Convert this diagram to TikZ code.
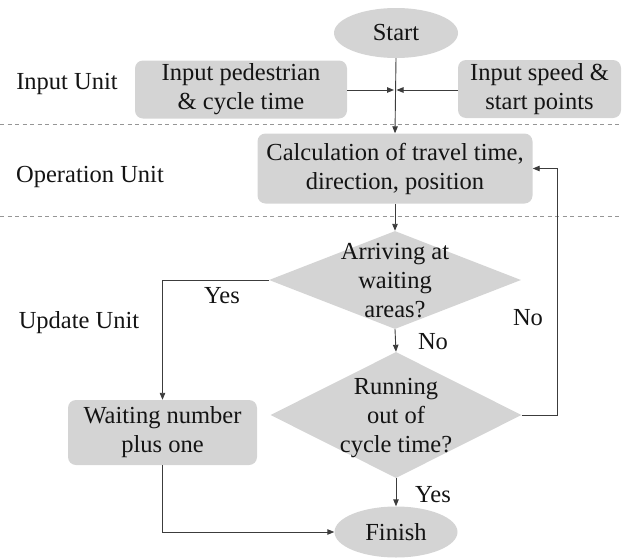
\documentclass[tikz,border=0pt]{standalone}
\usepackage{fontspec}
\setmainfont{Liberation Serif}
\newfontfamily\tnrfont{Liberation Serif}
\usetikzlibrary{shapes.geometric,arrows.meta}
\definecolor{boxgray}{RGB}{212,212,212}
\definecolor{linegray}{RGB}{60,60,60}
\definecolor{dashgray}{RGB}{150,150,150}
\definecolor{txtcol}{RGB}{20,20,20}
\tikzset{
  txt/.style={font=\tnrfont\fontsize{24.5}{29}\selectfont, text=txtcol, align=center, inner sep=0pt},
  rbox/.style={txt, rectangle, rounded corners=8pt, fill=boxgray},
  oval/.style={txt, ellipse, fill=boxgray},
  dec/.style={diamond, fill=boxgray, inner sep=0pt},
  arr/.style={draw=linegray, line width=0.9pt, -{Triangle[length=7pt,width=5.5pt]}},
  sep/.style={draw=dashgray, line width=0.8pt, dash pattern=on 4pt off 3.5pt},
}
\begin{document}
\begin{tikzpicture}[x=1pt,y=-1pt]
\useasboundingbox (0,0) rectangle (622,560);
% separators
\coordinate (s1l) at (0,124.5);
\coordinate (s1r) at (622,124.5);
\coordinate (s2l) at (0,216.5);
\coordinate (s2r) at (622,216.5);
\draw[sep] (s1l) -- (s1r);
\draw[sep] (s2l) -- (s2r);
% unit labels
\node[txt] (lin) at (67,84) {Input Unit};
\node[txt] (lop) at (90,177) {Operation Unit};
\node[txt] (lup) at (79,323) {Update Unit};
% nodes
\node[oval, minimum width=124pt, minimum height=50pt] (start) at (396,33) {Start};
\node[rbox, minimum width=212pt, minimum height=58pt] (inped) at (241,89.5) {Input pedestrian\\\& cycle time};
\node[rbox, minimum width=163pt, minimum height=58pt] (inspeed) at (539.5,89) {Input speed \&\\start points};
\node[rbox, minimum width=275pt, minimum height=70pt] (calc) at (395,168.5) {Calculation of travel time,\\direction, position};
\node[dec, minimum width=252pt, minimum height=98pt] (d1) at (395,280) {};
\node[txt] (d1t) at (395,281) {Arriving at\\waiting\\areas?};
\node[dec, minimum width=251pt, minimum height=126pt] (d2) at (396,415) {};
\node[txt] (d2t) at (396,418) {Running\\out of\\cycle time?};
\node[rbox, minimum width=189pt, minimum height=65pt] (wait) at (162.5,432.5) {Waiting number\\plus one};
\node[oval, minimum width=123pt, minimum height=51pt] (finish) at (396,532) {Finish};
% branch labels
\node[txt] (yes1) at (222,296) {Yes};
\node[txt] (no1) at (528,318) {No};
\node[txt] (no2) at (433,342) {No};
\node[txt] (yes2) at (433,495) {Yes};
% junction points
\coordinate (jl) at (394,90);
\coordinate (jr) at (396.5,90);
\coordinate (fb) at (557.5,415);
% connectors
\draw[arr] (start.south) -- (calc.north);
\draw[arr] (inped.east |- jl) -- (jl);
\draw[arr] (inspeed.west |- jr) -- (jr);
\draw[arr] (calc.south) -- (d1.north);
\draw[arr] (d1.south) -- (d2.north);
\draw[arr] (d1.west) -| (wait.north);
\draw[arr] (d2.east) -- (fb) |- (calc.east);
\draw[arr] (d2.south) -- (finish.north);
\draw[arr] (wait.south) |- (finish.west);
\end{tikzpicture}
\end{document}
